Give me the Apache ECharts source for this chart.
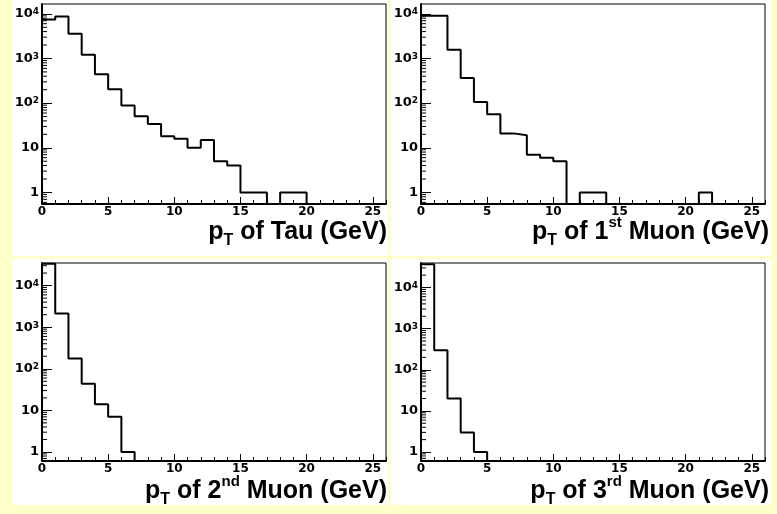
<!DOCTYPE html>
<html>
<head>
<meta charset="utf-8">
<script src="https://cdn.jsdelivr.net/npm/echarts@6/dist/echarts.min.js"></script>
<style>
html, body { margin: 0; padding: 0; background: #ffffcc; }
#main { width: 777px; height: 514px; }
</style>
</head>
<body>
<div id="main"></div>
<script>
// histogram bins: 26 bins of 1 GeV starting at 0
var binLow = 0;
var binWidth = 1;

var tauCounts   = [7470, 8720, 3575, 1213, 441, 204, 88, 51, 34, 18, 16, 10, 15, 5, 4, 1, 1, 0, 1, 1, 0, 0, 0, 0, 0, 0];
var muon1Counts = [9020, 9020, 1570, 365, 106, 56, 21, 19, 7, 6, 5, 0, 1, 1, 0, 0, 0, 0, 0, 0, 0, 1, 0, 0, 0, 0];
var muon2Counts = [33500, 2120, 176, 44, 14, 7, 1, 0, 0, 0, 0, 0, 0, 0, 0, 0, 0, 0, 0, 0, 0, 0, 0, 0, 0, 0];
var muon3Counts = [37000, 298, 20, 3, 1, 0, 0, 0, 0, 0, 0, 0, 0, 0, 0, 0, 0, 0, 0, 0, 0, 0, 0, 0, 0, 0];

var xMin = 0, xMax = 26;
var yMins = [0.55, 0.55, 0.608, 0.604];
var yMaxs = [16600, 16600, 34900, 39500];
var minorMultipliers = [2, 3, 4, 5, 6, 7, 8, 9];

var titles = [
    '{p|p}{sub|T}{t| of Tau (GeV)}',
    '{p|p}{sub|T}{t| of 1}{sup|st}{t| Muon (GeV)}',
    '{p|p}{sub|T}{t| of 2}{sup|nd}{t| Muon (GeV)}',
    '{p|p}{sub|T}{t| of 3}{sup|rd}{t| Muon (GeV)}'
];
var allCounts = [tauCounts, muon1Counts, muon2Counts, muon3Counts];

// pad layout
var pads = [
    { x: 13,  y: 0,   w: 375, h: 256, grid: { left: 42,  top: 4,   width: 344, height: 200 }, titleTop: 215, titleRight: 390 },
    { x: 391, y: 0,   w: 380, h: 256, grid: { left: 421, top: 4,   width: 344, height: 200 }, titleTop: 215, titleRight: 8 },
    { x: 13,  y: 259, w: 375, h: 246, grid: { left: 42,  top: 263, width: 344, height: 198 }, titleTop: 474, titleRight: 390 },
    { x: 391, y: 259, w: 380, h: 246, grid: { left: 421, top: 263, width: 344, height: 198 }, titleTop: 474, titleRight: 8 }
];

var font = 'Liberation Sans';
var labelFont = 'DejaVu Sans';

function stepData(counts, floor) {
    var pts = [];
    for (var i = 0; i < counts.length; i++) {
        pts.push([binLow + i * binWidth, counts[i] > 0 ? counts[i] : floor]);
    }
    var last = counts[counts.length - 1];
    pts.push([binLow + counts.length * binWidth, last > 0 ? last : floor]);
    return pts;
}

function minorTickValues(lo, hi) {
    var out = [];
    for (var e = -1; e <= 5; e++) {
        for (var j = 0; j < minorMultipliers.length; j++) {
            var v = minorMultipliers[j] * Math.pow(10, e);
            if (v > lo && v < hi) out.push([xMin, v]);
        }
    }
    return out;
}

var grids = [], xAxes = [], yAxes = [], series = [], titleList = [], rects = [];

pads.forEach(function (pad, k) {
    rects.push({
        type: 'rect', z: -10,
        shape: { x: pad.x, y: pad.y, width: pad.w, height: pad.h },
        style: { fill: '#ffffff' }
    });
    grids.push(Object.assign({ show: true, borderColor: '#000', borderWidth: 1, backgroundColor: 'transparent' }, pad.grid));

    // major x axis with labels
    xAxes.push({
        type: 'value', gridIndex: k, min: xMin, max: xMax, interval: 5, position: 'bottom',
        axisLine: { onZero: false, lineStyle: { color: '#000', width: 2 } },
        axisTick: { inside: true, length: 7, lineStyle: { color: '#000', width: 1 } },
        axisLabel: { color: '#000', fontSize: 12, fontWeight: 'bold', fontFamily: labelFont, margin: 2, showMaxLabel: false },
        splitLine: { show: false }
    });
    // minor x ticks every bin
    xAxes.push({
        type: 'value', gridIndex: k, min: xMin, max: xMax, interval: 1, position: 'bottom',
        axisLine: { show: false, onZero: false },
        axisTick: { inside: true, length: 4, lineStyle: { color: '#000', width: 1 } },
        axisLabel: { show: false },
        splitLine: { show: false }
    });
    yAxes.push({
        type: 'log', gridIndex: k, logBase: 10, min: yMins[k], max: yMaxs[k],
        axisLine: { onZero: false, lineStyle: { color: '#000', width: 2 } },
        axisTick: { inside: true, length: 10, lineStyle: { color: '#000', width: 1 } },
        axisLabel: {
            color: '#000', fontSize: 13, fontWeight: 'bold', fontFamily: labelFont, margin: 3,
            showMinLabel: false, showMaxLabel: false,
            formatter: function (v) {
                var e = Math.round(Math.log(v) / Math.LN10);
                if (e === 0) return '1';
                if (e === 1) return '10';
                return '10{sup|' + e + '}';
            },
            lineHeight: 13,
            rich: {
                sup: { fontSize: 9, fontWeight: 'bold', fontFamily: labelFont, color: '#000', lineHeight: 8, verticalAlign: 'top' }
            }
        },
        splitLine: { show: false }
    });

    series.push({
        type: 'line', step: 'end', xAxisIndex: 2 * k, yAxisIndex: k,
        symbol: 'none', animation: false,
        lineStyle: { color: '#000', width: 2 },
        data: stepData(allCounts[k], yMins[k])
    });
    series.push({
        type: 'custom', xAxisIndex: 2 * k, yAxisIndex: k, animation: false,
        data: minorTickValues(yMins[k], yMaxs[k]),
        renderItem: function (params, api) {
            var p = api.coord([api.value(0), api.value(1)]);
            return {
                type: 'line',
                shape: { x1: p[0], y1: p[1], x2: p[0] + 5, y2: p[1] },
                style: { stroke: '#000', lineWidth: 1 }
            };
        }
    });

    titleList.push({
        text: titles[k], right: pad.titleRight, top: pad.titleTop, padding: 0,
        textStyle: {
            fontFamily: font, fontWeight: 'bold', fontSize: 25, color: '#000',
            rich: {
                p:   { fontFamily: font, fontWeight: 'bold', fontSize: 25, color: '#000', lineHeight: 34 },
                t:   { fontFamily: font, fontWeight: 'bold', fontSize: 25, color: '#000', lineHeight: 34 },
                sub: { fontFamily: font, fontWeight: 'bold', fontSize: 16, color: '#000', lineHeight: 14, verticalAlign: 'bottom' },
                sup: { fontFamily: font, fontWeight: 'bold', fontSize: 15, color: '#000', lineHeight: 30, verticalAlign: 'top' }
            }
        }
    });
});

var myChart = echarts.init(document.getElementById('main'), null, { renderer: 'canvas' });
var option = {
    backgroundColor: '#ffffcc',
    animation: false,
    title: titleList,
    graphic: { elements: rects },
    grid: grids,
    xAxis: xAxes,
    yAxis: yAxes,
    series: series
};
myChart.setOption(option);
</script>
</body>
</html>
